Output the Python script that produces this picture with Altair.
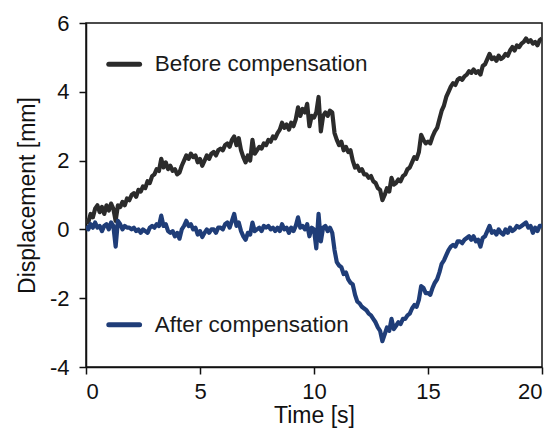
import altair as alt
import pandas as pd

# time samples (s)
time_s = [round(i * 0.1, 1) for i in range(201)]

# Displacement before compensation (mm), every 0.1 s
before = [
    0.30, 0.20, 0.45, 0.35, 0.60, 0.70, 0.50, 0.65, 0.45, 0.70,
    0.55, 0.75, 0.60, 0.25, 0.70, 0.65, 0.80, 0.70, 0.90, 0.85,
    1.00, 1.05, 0.95, 1.15, 1.10, 1.25, 1.20, 1.40, 1.35, 1.55,
    1.60, 1.75, 1.70, 2.05, 1.80, 1.95, 1.75, 1.85, 1.70, 1.75,
    1.60, 1.65, 1.85, 2.00, 2.15, 2.05, 2.20, 2.10, 2.15, 1.95,
    2.05, 1.85, 2.00, 2.15, 2.05, 2.20, 2.25, 2.15, 2.30, 2.35,
    2.30, 2.45, 2.50, 2.40, 2.60, 2.70, 2.45, 2.65, 2.30, 2.10,
    1.95, 2.15, 2.00, 2.60, 2.20, 2.30, 2.40, 2.35, 2.50, 2.45,
    2.60, 2.55, 2.70, 2.65, 2.80, 2.90, 3.10, 2.95, 3.05, 2.90,
    3.10, 3.00, 3.20, 3.55, 3.30, 3.50, 3.40, 3.65, 3.00, 3.30,
    3.25, 3.40, 3.85, 2.85, 3.30, 3.40, 3.30, 3.45, 3.40, 2.80,
    2.60, 2.45, 2.55, 2.30, 2.40, 2.25, 2.30, 2.00, 1.80, 1.85,
    1.70, 1.75, 1.60, 1.60, 1.50, 1.55, 1.40, 1.35, 1.20, 1.15,
    0.85, 1.00, 1.20, 1.10, 1.50, 1.30, 1.35, 1.45, 1.40, 1.55,
    1.60, 1.75, 1.80, 1.95, 2.10, 2.05, 2.25, 2.75, 2.60, 2.50,
    2.55, 2.50, 2.70, 2.85, 2.95, 3.20, 3.45, 3.60, 3.85, 4.00,
    4.15, 4.25, 4.20, 4.35, 4.40, 4.35, 4.45, 4.50, 4.60, 4.55,
    4.65, 4.55, 4.60, 4.50, 4.75, 4.80, 4.95, 5.10, 4.95, 5.00,
    4.90, 5.05, 4.95, 5.00, 5.10, 5.05, 5.20, 5.30, 5.20, 5.35,
    5.30, 5.40, 5.45, 5.55, 5.45, 5.50, 5.40, 5.45, 5.35, 5.50,
    5.55,
]

# Displacement after compensation (mm)
after = [
    0.10, 0.00, 0.15, 0.05, 0.20, 0.05, 0.10, -0.05, 0.10, 0.15,
    0.00, 0.20, 0.10, -0.50, 0.25, 0.15, 0.00, 0.10, 0.05, 0.05,
    0.00, 0.05, -0.05, 0.00, -0.10, 0.00, -0.05, -0.10, 0.05, 0.10,
    0.05, 0.15, 0.10, 0.40, 0.10, 0.15, -0.05, -0.10, -0.05, -0.20,
    -0.10, -0.27, 0.00, 0.10, 0.25, 0.10, 0.15, 0.00, 0.05, -0.15,
    -0.05, -0.22, -0.10, 0.00, -0.10, 0.00, 0.00, -0.10, 0.05, 0.05,
    0.00, 0.15, 0.20, 0.05, 0.25, 0.45, 0.10, 0.20, -0.05, -0.20,
    -0.30, -0.10, -0.15, 0.20, -0.05, 0.00, 0.05, -0.05, 0.10, 0.05,
    0.10, 0.00, 0.05, -0.05, 0.05, -0.05, 0.15, 0.00, 0.05, -0.10,
    0.05, -0.05, 0.10, 0.35, 0.05, 0.10, 0.00, 0.15, -0.20, 0.05,
    0.00, -0.55, 0.45, -0.35, 0.05, 0.10, -0.05, 0.05, -0.10, -0.60,
    -0.95, -1.05, -1.10, -1.30, -1.25, -1.45, -1.55, -1.60, -1.90, -2.10,
    -2.15, -2.25, -2.30, -2.35, -2.45, -2.50, -2.60, -2.70, -2.85, -2.95,
    -3.25, -3.05, -2.85, -2.95, -2.60, -2.90, -2.80, -2.70, -2.75, -2.60,
    -2.60, -2.50, -2.45, -2.30, -2.20, -2.25, -2.05, -1.65, -1.70, -1.85,
    -1.85, -1.90, -1.70, -1.55, -1.45, -1.25, -1.00, -0.90, -0.75, -0.60,
    -0.50, -0.45, -0.50, -0.35, -0.35, -0.40, -0.30, -0.25, -0.20, -0.30,
    -0.20, -0.35, -0.30, -0.50, -0.25, -0.20, -0.05, 0.10, -0.10, -0.05,
    -0.15, 0.00, -0.10, -0.15, 0.00, -0.10, 0.05, -0.05, 0.00, 0.10,
    0.05, 0.10, 0.15, 0.20, 0.05, 0.10, -0.10, 0.05, -0.05, 0.10,
    0.10,
]

series_names = ["Before compensation", "After compensation"]
series_colors = ["#2b2b2b", "#1f3d78"]

x_ticks = [0, 5, 10, 15, 20]
y_ticks = [-4, -2, 0, 2, 4, 6]

# legend entries placed in data coordinates
legend_x0 = [1.0, 1.0]
legend_x1 = [2.35, 2.35]
legend_text_x = [3.02, 3.02]
legend_y = [4.8, -2.77]

rows = []
for name, vals in zip(series_names, [before, after]):
    for t, v in zip(time_s, vals):
        rows.append({"t": t, "v": v, "series": name})
df = pd.DataFrame(rows)

leg = pd.DataFrame({
    "series": series_names,
    "x0": legend_x0,
    "x1": legend_x1,
    "tx": legend_text_x,
    "y": legend_y,
})

color = alt.Color("series:N", scale=alt.Scale(domain=series_names, range=series_colors), legend=None)
xs = alt.Scale(domain=[0, 20], nice=False, zero=False)
ys = alt.Scale(domain=[-4, 6], nice=False, zero=False)

lines = alt.Chart(df).mark_line(strokeWidth=4.2, strokeJoin="round", clip=True).encode(
    x=alt.X("t:Q", scale=xs, axis=alt.Axis(values=x_ticks, title="Time [s]")),
    y=alt.Y("v:Q", scale=ys, axis=alt.Axis(values=y_ticks, title="Displacement [mm]",
                                           labelExpr="'' + datum.value")),
    color=color,
    detail="series:N",
)

swatch = alt.Chart(leg).mark_rule(strokeWidth=5, strokeCap="round").encode(
    x="x0:Q", x2="x1:Q", y="y:Q", color=color,
)

labels = alt.Chart(leg).mark_text(
    align="left", baseline="middle", font="Liberation Sans", fontSize=22.5, color="#1a1a1a"
).encode(x="tx:Q", y="y:Q", text="series:N")

chart = alt.layer(lines, swatch, labels).properties(
    width=456, height=344,
    autosize=alt.AutoSizeParams(type="none"),
    padding={"left": 78, "top": 15, "right": 10, "bottom": 63},
).configure_view(
    stroke="#111111", strokeWidth=1.5
).configure_axis(
    grid=False,
    domainColor="#111111", domainWidth=1.5,
    tickColor="#111111", tickWidth=1.5, tickSize=7,
    labelFont="Liberation Sans", labelFontSize=22, labelColor="#111111",
    titleFont="Liberation Sans", titleFontSize=23, titleFontWeight="normal", titleColor="#111111",
).configure_axisX(
    labelPadding=7, titlePadding=2,
).configure_axisY(
    labelPadding=10, titlePadding=10,
)

chart.save("out.html", embed_options={"renderer": "svg", "actions": False})
